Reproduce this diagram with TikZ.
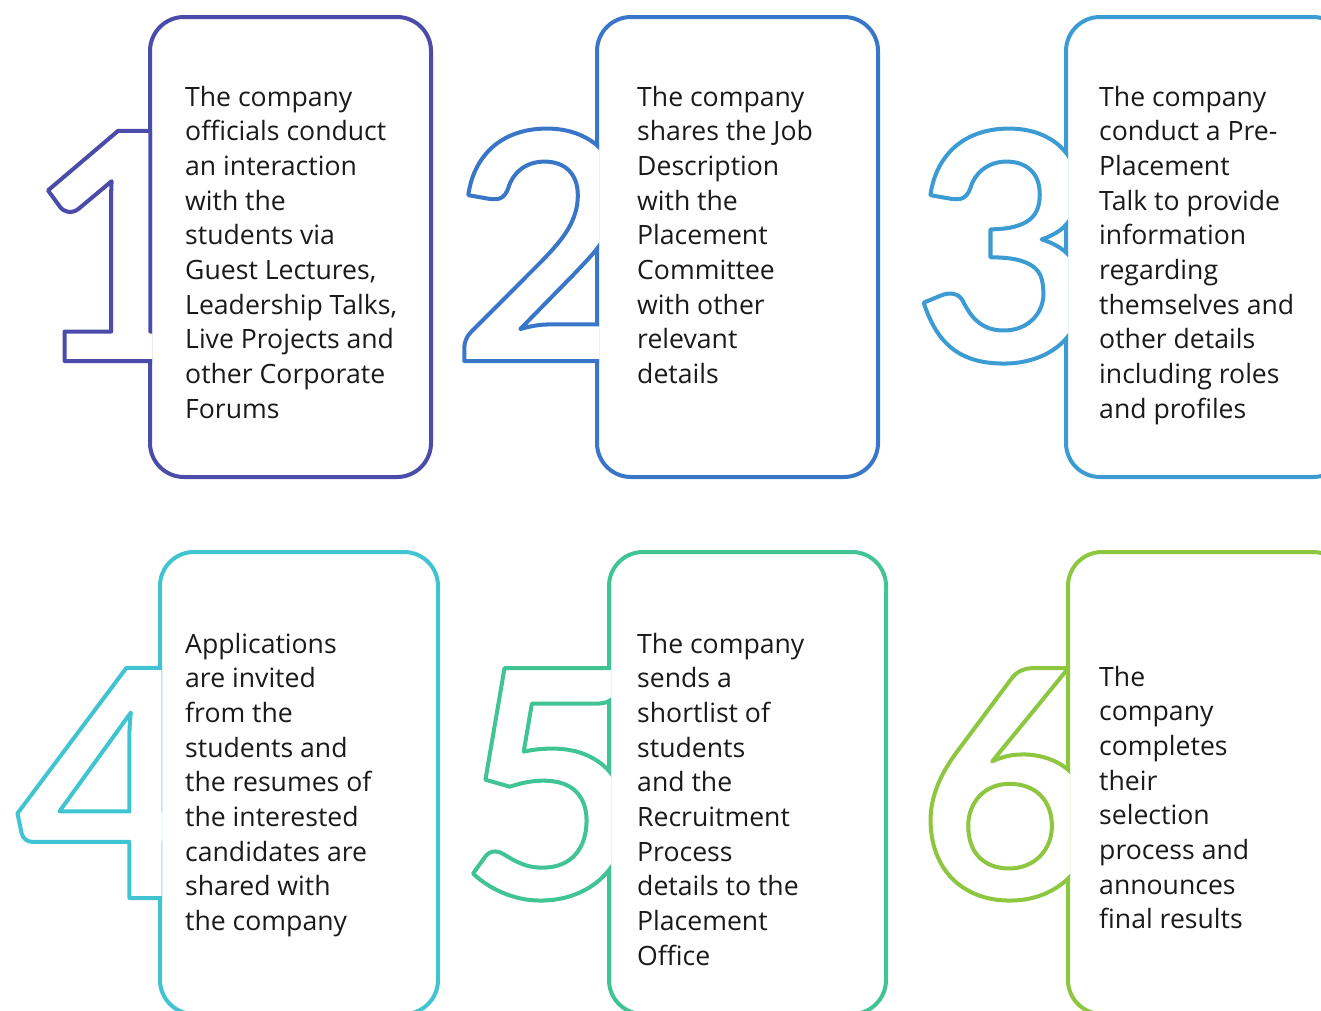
\documentclass[tikz,border=0pt]{standalone}
\usepackage{fontspec}
\setmainfont{Open Sans}
\newfontfamily\digitfont{Lato}
\definecolor{cA}{HTML}{4B4BAA}
\definecolor{cB}{HTML}{3A76C8}
\definecolor{cC}{HTML}{3C9BD2}
\definecolor{cD}{HTML}{40C4D2}
\definecolor{cE}{HTML}{40C494}
\definecolor{cF}{HTML}{8DC63F}
\definecolor{txtc}{HTML}{1A1A1A}
\newcommand\outl[1]{\special{pdf:literal 1 1 1 rg 2 Tr 4 w 1 j}#1\special{pdf:literal 0 Tr}}
\tikzset{
  card/.style={draw=#1, line width=4pt, rounded corners=34pt, fill=white},
  txt/.style={anchor=base west, inner sep=0pt, text=txtc, font=\fontsize{26.6}{34.7}\selectfont},
  digit/.style={anchor=base west, inner sep=0pt, font=\digitfont\bfseries\fontsize{318}{318}\selectfont},
}
\begin{document}
\begin{tikzpicture}[x=1pt,y=-1pt]
\useasboundingbox (0,0) rectangle (1321,1010);
\clip (0,0) rectangle (1321,1010);
% cards
\draw[card=cA] (150,17) rectangle (431,477);
\draw[card=cB] (597,17) rectangle (878,477);
\draw[card=cC] (1066,17) rectangle (1347,477);
\draw[card=cD] (160,552) rectangle (438,1014);
\draw[card=cE] (609,552) rectangle (886,1014);
\draw[card=cF] (1068,552) rectangle (1347,1014);
% digits
\begin{scope}\clip (0,0) rectangle (152,500);
\node[digit, text=cA] (d1) at (27,361) {\outl{1}};\end{scope}
\begin{scope}\clip (300,0) rectangle (599,500);
\node[digit, text=cB] (d2) at (452,361) {\outl{2}};\end{scope}
\begin{scope}\clip (800,0) rectangle (1068,500);
\node[digit, text=cC] (d3) at (913,361) {\outl{3}};\end{scope}
\begin{scope}\clip (0,500) rectangle (162,1010);
\node[digit, text=cD] (d4) at (16,898) {\outl{4}};\end{scope}
\begin{scope}\clip (300,500) rectangle (611,1010);
\node[digit, text=cE] (d5) at (459,898) {\outl{5}};\end{scope}
\begin{scope}\clip (800,500) rectangle (1070,1010);
\node[digit, text=cF] (d6) at (917,898) {\outl{6}};\end{scope}
% texts
\node[txt] (t1) at (185,106) {\parbox[t]{280pt}{\raggedright The company\\officials conduct\\an interaction\\with the\\students via\\Guest Lectures,\\Leadership Talks,\\Live Projects and\\other Corporate\\Forums}};
\node[txt] (t2) at (637,106) {\parbox[t]{280pt}{\raggedright The company\\shares the Job\\Description\\with the\\Placement\\Committee\\with other\\relevant\\details}};
\node[txt] (t3) at (1099,106) {\parbox[t]{280pt}{\raggedright The company\\conduct a Pre-\\Placement\\Talk to provide\\information\\regarding\\themselves and\\other details\\including roles\\and profiles}};
\node[txt] (t4) at (185,653) {\parbox[t]{280pt}{\raggedright Applications\\are invited\\from the\\students and\\the resumes of\\the interested\\candidates are\\shared with\\the company}};
\node[txt] (t5) at (637,653) {\parbox[t]{280pt}{\raggedright The company\\sends a\\shortlist of\\students\\and the\\Recruitment\\Process\\details to the\\Placement\\Office}};
\node[txt] (t6) at (1099,686) {\parbox[t]{280pt}{\raggedright The\\company\\completes\\their\\selection\\process and\\announces\\final results}};
\end{tikzpicture}
\end{document}
